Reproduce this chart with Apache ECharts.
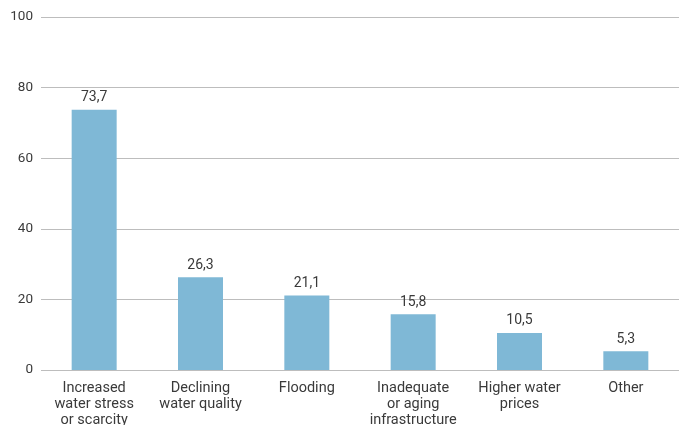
<!DOCTYPE html>
<html>
<head>
<meta charset="utf-8">
<script src="https://cdn.jsdelivr.net/npm/echarts@6/dist/echarts.min.js"></script>
<style>
  html, body { margin: 0; padding: 0; background: #fff; }
  #chart { width: 685px; height: 425px; }
</style>
</head>
<body>
<div id="chart"></div>
<script>
const categories = [
  'Increased\nwater stress\nor scarcity',
  'Declining\nwater quality',
  'Flooding',
  'Inadequate\nor aging\ninfrastructure',
  'Higher water\nprices',
  'Other'
];
const values = [73.7, 26.3, 21.1, 15.8, 10.5, 5.3];
const yTicks = [0, 20, 40, 60, 80, 100];

const textColor = '#3a3a3a';
const fontFamily = 'Roboto, "Open Sans", sans-serif';

const myChart = echarts.init(document.getElementById('chart'));
myChart.setOption({
  animation: false,
  grid: { left: 41, right: 6, top: 17, bottom: 55, outerBoundsMode: 'none', containLabel: false },
  xAxis: {
    type: 'category',
    data: categories,
    axisLine: { show: false },
    axisTick: { show: false },
    axisLabel: {
      color: textColor,
      fontSize: 14.5,
      fontFamily,
      lineHeight: 16,
      margin: 10,
      interval: 0
    }
  },
  yAxis: {
    type: 'value',
    min: yTicks[0],
    max: yTicks[yTicks.length - 1],
    interval: 20,
    axisLine: { show: false },
    axisTick: { show: false },
    axisLabel: { color: textColor, fontSize: 13.5, fontFamily, margin: 8 },
    splitLine: { lineStyle: { color: '#bdbdbd', width: 1 } }
  },
  series: [{
    type: 'bar',
    data: values,
    barWidth: 45,
    itemStyle: { color: '#7fb8d6' },
    label: {
      show: true,
      position: 'top',
      distance: 5,
      color: textColor,
      fontSize: 14,
      fontFamily,
      formatter: p => String(p.value).replace('.', ',')
    }
  }]
});
</script>
</body>
</html>
